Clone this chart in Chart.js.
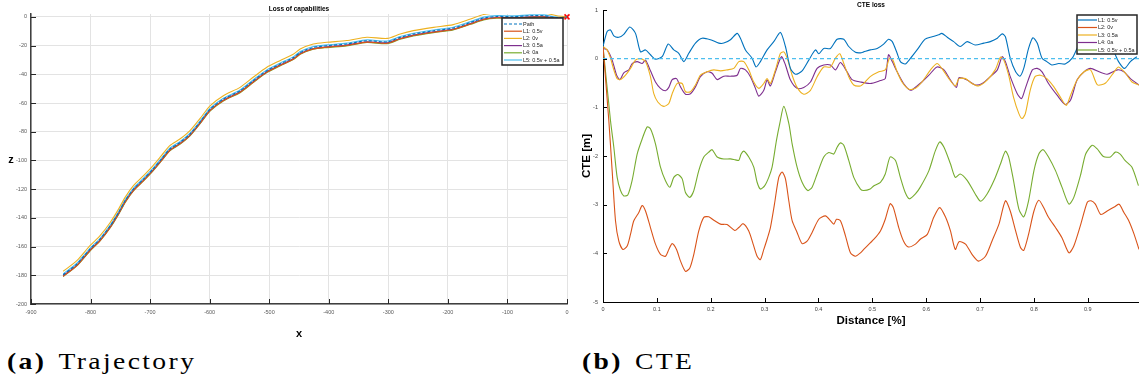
<!DOCTYPE html>
<html>
<head>
<meta charset="utf-8">
<script src="https://cdn.jsdelivr.net/npm/chart.js@4.4.1/dist/chart.umd.min.js"></script>
<style>
  body { margin:0; width:1139px; height:380px; background:#fff; overflow:hidden; position:relative; }
  #wrapA { position:absolute; left:0; top:0; width:575px; height:340px; }
  #wrapB { position:absolute; left:575px; top:0; width:564px; height:340px; }
  .cap { position:absolute; top:350px; font-family:"Liberation Serif", serif; font-size:23px; line-height:23px; font-weight:400;
         letter-spacing:2px; transform-origin:0 0; transform:scaleX(1.2); white-space:nowrap; color:#000; }
  .cap b { font-weight:700; }
</style>
</head>
<body>
<div id="wrapA"><canvas id="traj"></canvas></div>
<div id="wrapB"><canvas id="cte"></canvas></div>
<div class="cap" style="left:7px"><b>(a)</b><span style="margin-left:10px">Trajectory</span></div>
<div class="cap" style="left:582px"><b>(b)</b><span style="margin-left:10px">CTE</span></div>
<script>
// ---- (a) trajectory data, x / z in metres ----
const trajX = [-846,-823,-801,-784,-767,-753,-742,-728,-711,-695,-681,-667,-650,-633,-616,-599,-577,-549,-527,-504,-482,-459,-448,-426,-403,-370,-336,-302,-280,-258,-224,-191,-162,-140,-118,-90,-62,-39,-17,0];
const trajPath = [-179.6,-172.2,-161.8,-154.8,-145.6,-136.3,-128.1,-120.0,-113.0,-106.0,-99.1,-92.1,-87.5,-81.6,-73.1,-64.2,-57.3,-51.5,-44.5,-37.5,-32.9,-28.3,-24.8,-21.3,-20.1,-18.9,-16.6,-17.4,-14.3,-12.0,-9.7,-7.8,-3.9,-0.8,0.3,0.1,0.8,0.8,-0.5,0];
const trajL1 = [-180.8,-173.2,-162.8,-155.8,-146.6,-137.3,-129.1,-121.0,-114.0,-107.0,-100.1,-93.1,-88.5,-82.6,-74.1,-65.2,-58.3,-52.5,-45.5,-38.5,-33.9,-29.3,-25.8,-22.3,-21.1,-19.9,-17.6,-18.4,-15.3,-13.0,-10.7,-8.8,-4.9,-1.8,-0.6,-0.8,-0.1,0.1,-1.0,0];
const trajL2 = [-177.2,-169.8,-159.4,-152.4,-143.2,-133.9,-125.7,-117.6,-110.6,-103.6,-96.7,-89.7,-85.1,-79.2,-70.7,-61.8,-54.9,-49.1,-42.1,-35.1,-30.5,-25.9,-22.4,-18.9,-17.7,-16.5,-14.2,-15.0,-11.9,-9.6,-7.3,-5.4,-1.5,1.6,2.7,2.5,3.0,2.8,0.8,0];
const trajL3 = [-180.3,-172.9,-162.5,-155.5,-146.3,-137.0,-128.8,-120.7,-113.7,-106.7,-99.8,-92.8,-88.2,-82.3,-73.8,-64.9,-58.0,-52.2,-45.2,-38.2,-33.6,-29.0,-25.5,-22.0,-20.8,-19.6,-17.3,-18.1,-15.0,-12.7,-10.4,-8.5,-4.6,-1.5,-0.4,-0.6,0.1,0.2,-0.9,0];
const trajL4 = [-180.9,-173.5,-163.1,-156.1,-146.9,-137.6,-129.4,-121.3,-114.3,-107.3,-100.4,-93.4,-88.8,-82.9,-74.4,-65.5,-58.6,-52.8,-45.8,-38.8,-34.2,-29.6,-26.1,-22.6,-21.4,-20.2,-17.9,-18.7,-15.6,-13.3,-11.0,-9.1,-5.2,-2.1,-0.9,-1.1,-0.4,-0.3,-1.2,0];
const trajL5 = [-179.0,-171.6,-161.2,-154.2,-145.0,-135.7,-127.5,-119.4,-112.4,-105.4,-98.5,-91.5,-86.9,-81.0,-72.5,-63.6,-56.7,-50.9,-43.9,-36.9,-32.3,-27.7,-24.2,-20.7,-19.5,-18.3,-16.0,-16.8,-13.7,-11.4,-9.1,-7.2,-3.3,-0.2,0.9,0.7,1.4,1.4,-0.2,0];
const target = [0, 0];
const trajLabels = ['Path','L1: 0.5v','L2: 0v','L3: 0.5a','L4: 0a','L5: 0.5v + 0.5a'];

// ---- (b) CTE data, [distance, cte] ----
const cteL1 = [[0,0.25],[0.0077,0.56],[0.0139,0.59],[0.0201,0.47],[0.0294,0.44],[0.0386,0.5],[0.0498,0.65],[0.0603,0.52],[0.0696,0.14],[0.0789,0.18],[0.0881,0.08],[0.0974,-0.01],[0.1098,0.04],[0.121,0.3],[0.1314,0.18],[0.1407,0.11],[0.15,-0.06],[0.1593,0.11],[0.1716,0.32],[0.184,0.42],[0.1995,0.39],[0.215,0.32],[0.2242,0.32],[0.2366,0.39],[0.249,0.52],[0.2551,0.42],[0.2644,0.18],[0.2768,0.01],[0.2842,-0.17],[0.2922,-0.06],[0.3046,0.18],[0.317,0.35],[0.3294,0.54],[0.3387,0.25],[0.348,-0.2],[0.3572,-0.32],[0.3696,-0.25],[0.382,-0.03],[0.3944,0.18],[0.4006,0.1],[0.4098,0.21],[0.4222,0.21],[0.4346,0.4],[0.447,0.4],[0.4562,0.25],[0.4686,0.13],[0.4779,0.12],[0.484,0.14],[0.496,0.18],[0.509,0.21],[0.521,0.3],[0.53,0.4],[0.537,0.35],[0.546,0.11],[0.552,-0.06],[0.561,-0.11],[0.571,0.01],[0.583,0.18],[0.598,0.4],[0.611,0.45],[0.623,0.49],[0.629,0.52],[0.639,0.44],[0.651,0.35],[0.663,0.25],[0.676,0.35],[0.691,0.28],[0.707,0.32],[0.719,0.35],[0.732,0.42],[0.741,0.51],[0.747,0.45],[0.756,0.01],[0.766,-0.27],[0.774,-0.36],[0.781,-0.2],[0.79,0.21],[0.798,0.43],[0.806,0.32],[0.815,0.01],[0.824,-0.06],[0.833,-0.13],[0.846,-0.1],[0.858,-0.11],[0.871,0.01],[0.88,0.21],[0.89,0.4],[0.9,0.5],[0.91,0.45],[0.925,0.3],[0.945,0.2],[0.957,-0.06],[0.968,-0.2],[0.979,-0.06],[0.991,0.04]];
const cteL2 = [[0,0.25],[0.0108,-1.27],[0.017,-2.3],[0.0232,-3.33],[0.0294,-3.75],[0.0368,-3.92],[0.0449,-3.85],[0.051,-3.61],[0.0572,-3.33],[0.0665,-3.16],[0.0727,-3.02],[0.0789,-3.13],[0.0881,-3.47],[0.0974,-3.81],[0.1067,-4.02],[0.116,-4.06],[0.1222,-3.92],[0.1284,-3.8],[0.1365,-3.92],[0.1439,-4.16],[0.1531,-4.37],[0.1612,-4.3],[0.1686,-4.02],[0.1778,-3.54],[0.1871,-3.26],[0.1964,-3.25],[0.2057,-3.32],[0.2181,-3.4],[0.2304,-3.41],[0.2446,-3.53],[0.2521,-3.47],[0.2601,-3.39],[0.2706,-3.54],[0.2787,-3.81],[0.2861,-4.06],[0.2922,-4.13],[0.2985,-3.92],[0.3046,-3.71],[0.3108,-3.47],[0.3183,-2.99],[0.3263,-2.44],[0.3325,-2.33],[0.3387,-2.47],[0.3449,-2.92],[0.3511,-3.33],[0.3603,-3.57],[0.3696,-3.8],[0.3789,-3.75],[0.3882,-3.57],[0.4006,-3.3],[0.4129,-3.23],[0.4222,-3.33],[0.4284,-3.4],[0.4334,-3.3],[0.4408,-3.33],[0.4501,-3.64],[0.4593,-3.99],[0.4686,-4.06],[0.4779,-3.99],[0.484,-3.92],[0.503,-3.71],[0.515,-3.54],[0.524,-3.3],[0.533,-2.98],[0.539,-3.06],[0.549,-3.47],[0.558,-3.75],[0.567,-3.87],[0.58,-3.81],[0.589,-3.71],[0.602,-3.61],[0.614,-3.26],[0.625,-3.06],[0.636,-3.26],[0.645,-3.54],[0.654,-3.92],[0.661,-3.76],[0.673,-3.81],[0.685,-4.02],[0.697,-4.16],[0.71,-4.06],[0.722,-3.75],[0.735,-3.4],[0.747,-2.92],[0.756,-3.13],[0.766,-3.54],[0.775,-3.88],[0.781,-3.94],[0.79,-3.61],[0.8,-3.13],[0.809,-2.91],[0.818,-3.06],[0.827,-3.26],[0.84,-3.47],[0.852,-3.68],[0.865,-3.99],[0.874,-3.85],[0.887,-3.4],[0.899,-2.95],[0.906,-2.92],[0.914,-2.99],[0.924,-3.2],[0.936,-3.13],[0.949,-3.05],[0.958,-2.99],[0.967,-3.16],[0.976,-3.33],[0.986,-3.61],[0.995,-3.92]];
const cteL3 = [[0,0.25],[0.0077,0.18],[0.0139,0.01],[0.0201,-0.23],[0.0263,-0.41],[0.0325,-0.43],[0.0418,-0.34],[0.051,-0.2],[0.0603,-0.03],[0.0696,0],[0.0789,-0.06],[0.0881,-0.37],[0.0943,-0.72],[0.1017,-0.89],[0.1129,-0.98],[0.1222,-0.92],[0.1284,-0.72],[0.1377,-0.51],[0.147,-0.51],[0.1531,-0.68],[0.1624,-0.68],[0.1716,-0.54],[0.1809,-0.34],[0.1933,-0.27],[0.2057,-0.23],[0.2181,-0.25],[0.2304,-0.23],[0.2428,-0.2],[0.2521,-0.06],[0.2614,-0.06],[0.2706,-0.23],[0.2799,-0.48],[0.2892,-0.61],[0.2985,-0.51],[0.3046,-0.41],[0.3108,-0.51],[0.3201,-0.23],[0.3294,0.11],[0.3356,0.14],[0.3418,0.01],[0.3511,-0.34],[0.3603,-0.59],[0.3727,-0.73],[0.3851,-0.65],[0.3975,-0.37],[0.4098,-0.17],[0.4222,-0.17],[0.4315,0.01],[0.4396,0.1],[0.447,-0.1],[0.4562,-0.37],[0.4655,-0.54],[0.4779,-0.56],[0.484,-0.51],[0.496,-0.37],[0.512,-0.27],[0.524,-0.23],[0.532,0.01],[0.538,-0.03],[0.546,-0.27],[0.555,-0.48],[0.568,-0.63],[0.58,-0.61],[0.592,-0.48],[0.608,-0.23],[0.62,-0.1],[0.629,-0.2],[0.642,-0.41],[0.654,-0.56],[0.661,-0.41],[0.673,-0.41],[0.685,-0.51],[0.697,-0.56],[0.713,-0.44],[0.728,-0.23],[0.738,0.03],[0.744,-0.03],[0.753,-0.34],[0.762,-0.79],[0.772,-1.13],[0.778,-1.23],[0.784,-1.13],[0.793,-0.65],[0.802,-0.37],[0.812,-0.34],[0.824,-0.41],[0.837,-0.58],[0.849,-0.79],[0.86,-0.96],[0.868,-0.75],[0.88,-0.44],[0.893,-0.27],[0.905,-0.23],[0.918,-0.54],[0.933,-0.5],[0.949,-0.27],[0.957,-0.17],[0.97,-0.3],[0.982,-0.48],[0.995,-0.54]];
const cteL4 = [[0,0.21],[0.0077,0.18],[0.017,-0.03],[0.0253,-0.34],[0.0315,-0.43],[0.0386,-0.29],[0.048,-0.23],[0.0541,-0.1],[0.0634,-0.06],[0.0727,-0.1],[0.0789,-0.03],[0.0881,-0.25],[0.0974,-0.48],[0.1067,-0.61],[0.116,-0.66],[0.1222,-0.59],[0.1284,-0.43],[0.1365,-0.41],[0.1439,-0.58],[0.1531,-0.73],[0.1624,-0.72],[0.1716,-0.58],[0.1809,-0.37],[0.1933,-0.27],[0.2026,-0.3],[0.2119,-0.43],[0.2242,-0.36],[0.2366,-0.36],[0.249,-0.34],[0.2551,-0.2],[0.2644,-0.23],[0.2737,-0.37],[0.283,-0.61],[0.2892,-0.77],[0.2985,-0.65],[0.3046,-0.44],[0.3108,-0.56],[0.3201,-0.27],[0.3313,0.04],[0.3387,-0.13],[0.348,-0.44],[0.3603,-0.61],[0.3727,-0.59],[0.3851,-0.48],[0.3975,-0.2],[0.4098,-0.13],[0.4222,-0.13],[0.4315,-0.23],[0.4408,-0.08],[0.4531,-0.27],[0.4624,-0.43],[0.478,-0.48],[0.496,-0.51],[0.515,-0.45],[0.524,-0.41],[0.53,0.08],[0.537,-0.06],[0.546,-0.27],[0.558,-0.51],[0.571,-0.65],[0.583,-0.56],[0.592,-0.48],[0.605,-0.34],[0.62,-0.17],[0.633,-0.23],[0.645,-0.44],[0.656,-0.59],[0.661,-0.39],[0.676,-0.44],[0.691,-0.54],[0.704,-0.51],[0.719,-0.37],[0.732,-0.23],[0.741,0.04],[0.747,-0.06],[0.756,-0.37],[0.769,-0.72],[0.777,-0.82],[0.784,-0.61],[0.797,-0.23],[0.806,-0.2],[0.815,-0.27],[0.827,-0.51],[0.843,-0.75],[0.858,-0.94],[0.868,-0.85],[0.88,-0.44],[0.893,-0.27],[0.905,-0.2],[0.921,-0.27],[0.936,-0.32],[0.955,-0.23],[0.967,-0.27],[0.979,-0.41],[0.995,-0.54]];
const cteL5 = [[0,0.25],[0.0139,-1.27],[0.0201,-1.82],[0.0263,-2.44],[0.0325,-2.71],[0.0386,-2.82],[0.046,-2.8],[0.0541,-2.5],[0.0634,-1.96],[0.0727,-1.65],[0.082,-1.4],[0.0881,-1.44],[0.0974,-1.75],[0.1067,-2.23],[0.116,-2.51],[0.1241,-2.64],[0.1314,-2.44],[0.1389,-2.38],[0.147,-2.47],[0.1531,-2.75],[0.1612,-2.85],[0.1686,-2.71],[0.1778,-2.3],[0.1871,-2.02],[0.1964,-1.92],[0.2026,-1.87],[0.2119,-2.02],[0.2242,-2.06],[0.2366,-2.06],[0.2459,-2.08],[0.2521,-2.09],[0.2564,-1.96],[0.2614,-1.9],[0.2706,-2.02],[0.2799,-2.23],[0.2861,-2.54],[0.2922,-2.68],[0.3003,-2.61],[0.3077,-2.44],[0.3139,-2.23],[0.322,-1.68],[0.3282,-1.33],[0.3356,-0.98],[0.3449,-1.33],[0.3511,-1.75],[0.3603,-2.23],[0.3696,-2.54],[0.3801,-2.71],[0.3882,-2.64],[0.3975,-2.37],[0.4098,-2.02],[0.4191,-1.93],[0.4284,-1.96],[0.4346,-1.82],[0.4408,-1.73],[0.447,-1.78],[0.4562,-2.09],[0.4655,-2.44],[0.4779,-2.68],[0.484,-2.71],[0.496,-2.68],[0.503,-2.61],[0.515,-2.54],[0.524,-2.37],[0.533,-2.02],[0.543,-2.09],[0.552,-2.44],[0.561,-2.75],[0.569,-2.88],[0.58,-2.78],[0.589,-2.64],[0.605,-2.3],[0.617,-1.89],[0.625,-1.71],[0.633,-1.82],[0.645,-2.16],[0.654,-2.44],[0.663,-2.37],[0.676,-2.5],[0.691,-2.78],[0.701,-2.93],[0.713,-2.78],[0.726,-2.5],[0.738,-2.16],[0.747,-1.9],[0.753,-2.02],[0.762,-2.5],[0.772,-3.09],[0.781,-3.25],[0.79,-2.92],[0.8,-2.3],[0.809,-1.96],[0.817,-1.87],[0.827,-2.02],[0.84,-2.3],[0.852,-2.64],[0.865,-2.99],[0.874,-2.85],[0.887,-2.37],[0.896,-1.96],[0.908,-1.78],[0.917,-1.85],[0.929,-2.01],[0.942,-2.02],[0.951,-1.92],[0.96,-1.96],[0.969,-2.09],[0.982,-2.23],[0.994,-2.61]];
const ctePath = [[0,0],[0.995,0]];
const cteLabels = ['L1: 0.5v','L2: 0v','L3: 0.5a','L4: 0a','L5: 0.5v + 0.5a'];

// matlab default colours
const BLUE = '#0072BD', ORANGE = '#D95319', YELLOW = '#EDB120', PURPLE = '#7E2F8E', GREEN = '#77AC30', CYAN = '#4DBEEE';
const FONT = '"Liberation Sans", Arial, sans-serif';

// inward ticks, titles, axis labels and boxed legend
const decor = {
  id: 'decor',
  afterDraw(chart, args, o) {
    const { ctx, chartArea: a, scales } = chart;
    ctx.save();
    ctx.strokeStyle = o.tickColor;
    ctx.lineWidth = 1;
    scales.x.ticks.forEach(t => {
      const px = Math.round(scales.x.getPixelForValue(t.value)) + 0.5;
      ctx.beginPath(); ctx.moveTo(px, a.bottom); ctx.lineTo(px, a.bottom - o.tickLen); ctx.stroke();
    });
    scales.y.ticks.forEach(t => {
      const py = Math.round(scales.y.getPixelForValue(t.value)) + 0.5;
      ctx.beginPath(); ctx.moveTo(a.left, py); ctx.lineTo(a.left + o.tickLen, py); ctx.stroke();
    });

    ctx.fillStyle = '#000';
    ctx.textAlign = 'center';
    ctx.textBaseline = 'middle';
    ctx.font = 'bold 6.5px ' + FONT;
    ctx.fillText(o.title, (a.left + a.right) / 2, o.titleY);
    ctx.font = 'bold ' + o.labelSize + 'px ' + FONT;
    ctx.fillText(o.xLabel, (a.left + a.right) / 2, o.xLabelY);
    if (o.yRotate) {
      ctx.save();
      ctx.translate(o.yLabelX, (a.top + a.bottom) / 2);
      ctx.rotate(-Math.PI / 2);
      ctx.fillText(o.yLabel, 0, 0);
      ctx.restore();
    } else {
      ctx.fillText(o.yLabel, o.yLabelX, o.yLabelY);
    }

    const L = o.legend;
    const items = chart.data.datasets.filter(d => !d.noLegend);
    const bx = a.right - L.right - L.w, by = a.top + L.top;
    ctx.fillStyle = '#fff';
    ctx.fillRect(bx, by, L.w, L.h);
    ctx.strokeStyle = '#262626';
    ctx.lineWidth = L.border;
    ctx.strokeRect(bx, by, L.w, L.h);
    ctx.font = '5.5px ' + FONT;
    ctx.textAlign = 'left';
    items.forEach((d, i) => {
      const y = by + L.first + i * L.row;
      ctx.strokeStyle = d.borderColor;
      ctx.lineWidth = 1.2;
      ctx.setLineDash(d.borderDash || []);
      ctx.beginPath(); ctx.moveTo(bx + L.pad, y); ctx.lineTo(bx + L.pad + L.line, y); ctx.stroke();
      ctx.setLineDash([]);
      ctx.fillStyle = '#262626';
      ctx.fillText(d.label, bx + L.pad + L.line + 1, y);
    });
    ctx.restore();
  }
};

function line(label, data, color, extra) {
  return Object.assign({ label: label, data: data, borderColor: color, backgroundColor: color,
    borderWidth: 1.1, pointRadius: 0, tension: 0.25, fill: false }, extra || {});
}

// ---- chart (a) ----
const xy = ys => trajX.map((x, i) => ({ x: x, y: ys[i] }));
new Chart(document.getElementById('traj'), {
  type: 'line',
  data: {
    datasets: [
      line(trajLabels[0], xy(trajPath), BLUE, { borderDash: [3, 2] }),
      line(trajLabels[1], xy(trajL1), ORANGE),
      line(trajLabels[2], xy(trajL2), YELLOW),
      line(trajLabels[3], xy(trajL3), PURPLE),
      line(trajLabels[4], xy(trajL4), GREEN),
      line(trajLabels[5], xy(trajL5), CYAN),
      { label: 'target', data: [{ x: target[0], y: target[1] }], showLine: false, noLegend: true, clip: false,
        pointStyle: 'crossRot', pointRadius: 3.5, borderColor: '#FF0000', borderWidth: 1.5 }
    ]
  },
  options: {
    responsive: true, maintainAspectRatio: false, animation: false,
    layout: { padding: { left: 0, top: 14, right: 8, bottom: 0 } },
    plugins: {
      legend: { display: false }, tooltip: { enabled: false },
      decor: { title: 'Loss of capabilities', titleY: 9, xLabel: 'x', xLabelY: 334, yLabel: 'z', yLabelX: 11, yLabelY: 160,
               yRotate: false, labelSize: 11, tickLen: 5, tickColor: '#262626',
               legend: { right: 4, top: 4, w: 61, h: 47, first: 6, row: 7.2, pad: 2, line: 18, border: 1.5 } }
    },
    scales: {
      x: { type: 'linear', min: -900, max: 0,
           ticks: { stepSize: 100, font: { size: 5.5, family: FONT }, color: '#595959', padding: 5, maxRotation: 0 },
           grid: { color: '#e3e3e3', drawTicks: false }, border: { color: '#404040', width: 1.5 },
           afterFit: s => { s.height = 36; } },
      y: { min: -200, max: 2,
           ticks: { stepSize: 20, includeBounds: false, font: { size: 5.5, family: FONT }, color: '#595959', padding: 4 },
           grid: { color: '#e3e3e3', drawTicks: false }, border: { color: '#404040', width: 1.5 },
           afterFit: s => { s.width = 31; } }
    }
  },
  plugins: [decor]
});

// ---- chart (b) ----
const pts = arr => arr.map(p => ({ x: p[0], y: p[1] }));
new Chart(document.getElementById('cte'), {
  type: 'line',
  data: {
    datasets: [
      line('Path', pts(ctePath), CYAN, { borderDash: [4, 3], noLegend: true, tension: 0 }),
      line(cteLabels[0], pts(cteL1), BLUE),
      line(cteLabels[1], pts(cteL2), ORANGE),
      line(cteLabels[2], pts(cteL3), YELLOW),
      line(cteLabels[3], pts(cteL4), PURPLE),
      line(cteLabels[4], pts(cteL5), GREEN)
    ]
  },
  options: {
    responsive: true, maintainAspectRatio: false, animation: false,
    layout: { padding: { left: 0, top: 10, right: 0, bottom: 0 } },
    plugins: {
      legend: { display: false }, tooltip: { enabled: false },
      decor: { title: 'CTE loss', titleY: 5, xLabel: 'Distance [%]', xLabelY: 321, yLabel: 'CTE [m]', yLabelX: 12,
               yRotate: true, labelSize: 11.5, tickLen: 4, tickColor: '#000',
               legend: { right: 2, top: 5, w: 60, h: 39, first: 5, row: 7.5, pad: 1, line: 19, border: 1.5 } }
    },
    scales: {
      x: { type: 'linear', min: 0, max: 0.995,
           ticks: { stepSize: 0.1, includeBounds: false, font: { size: 5.5, family: FONT }, color: '#404040', padding: 4,
                    maxRotation: 0, callback: v => +v.toFixed(1) },
           grid: { display: false, drawTicks: false }, border: { color: '#000', width: 1 },
           afterFit: s => { s.height = 38; } },
      y: { min: -5, max: 1,
           ticks: { stepSize: 1, font: { size: 5.5, family: FONT }, color: '#404040', padding: 5 },
           grid: { display: false, drawTicks: false }, border: { color: '#000', width: 1 },
           afterFit: s => { s.width = 28; } }
    }
  },
  plugins: [decor]
});
</script>
</body>
</html>
